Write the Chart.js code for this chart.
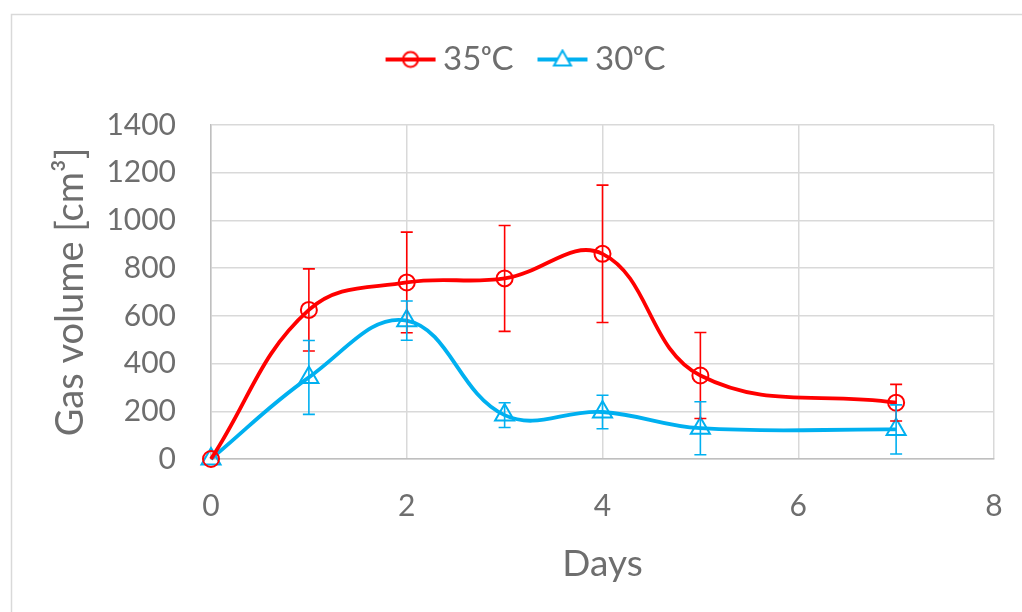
<!DOCTYPE html>
<html>
<head>
<meta charset="utf-8">
<script src="https://cdn.jsdelivr.net/npm/chart.js@4/dist/chart.umd.min.js"></script>
<style>
  html, body { margin: 0; padding: 0; background: #fff; }
</style>
</head>
<body>
<canvas id="gas-chart" width="1022" height="612"></canvas>
<script>
// Datos
const days = [0, 1, 2, 3, 4, 5, 7];
const vol35 = [0, 625, 740, 757, 860, 350, 236];
const err35 = [0, 172, 211, 222, 288, 180, 77];
const vol30 = [0, 342, 580, 184, 197, 129, 124];
const err30 = [0, 155, 82, 52, 70, 111, 103];
const xTicks = [0, 2, 4, 6, 8];
const yTicks = [0, 200, 400, 600, 800, 1000, 1200, 1400];
const seriesNames = ['35ᵒC', '30ᵒC'];

const RED = '#ff0000';
const BLUE = '#00b0f0';
const TEXT = '#6e6e6e';
const FONT = 'Lato, "Open Sans", sans-serif';

// icono de leyenda: linea con marcador
function legendIcon(color, shape) {
    const c = document.createElement('canvas');
    c.width = 52; c.height = 22;
    const g = c.getContext('2d');
    g.strokeStyle = color;
    g.lineWidth = 4;
    g.beginPath(); g.moveTo(1, 11); g.lineTo(51, 11); g.stroke();
    g.lineWidth = 2;
    g.fillStyle = '#fff';
    g.beginPath();
    if (shape === 'circle') {
        g.arc(26, 11, 7.5, 0, Math.PI * 2);
    } else {
        g.moveTo(26, 2); g.lineTo(34.5, 17); g.lineTo(17.5, 17); g.closePath();
        g.fill();
    }
    g.stroke();
    return c;
}
const icons = [legendIcon(RED, 'circle'), legendIcon(BLUE, 'triangle')];

const errorBars = {
    id: 'errorBars',
    afterDatasetsDraw(chart) {
        const { ctx, scales: { x, y } } = chart;
        chart.data.datasets.forEach(ds => {
            ctx.save();
            ctx.strokeStyle = ds.borderColor;
            ctx.lineWidth = 1.6;
            ds.data.forEach((p, i) => {
                const e = ds.errors[i];
                if (!e) return;
                const px = x.getPixelForValue(p.x);
                const top = y.getPixelForValue(p.y + e);
                const bot = y.getPixelForValue(p.y - e);
                ctx.beginPath();
                ctx.moveTo(px, top); ctx.lineTo(px, bot);
                ctx.moveTo(px - 6, top); ctx.lineTo(px + 6, top);
                ctx.moveTo(px - 6, bot); ctx.lineTo(px + 6, bot);
                ctx.stroke();
            });
            ctx.restore();
        });
    }
};

const frame = {
    id: 'frame',
    afterInit(chart) {
        // espacio fijo debajo de la leyenda
        const lg = chart.legend;
        const fit = lg.fit;
        lg.fit = function () { fit.call(this); this.height = 115; };
    },
    afterLayout(chart) {
        // la leyenda de Excel va algo a la derecha
        chart.legend.left += 33;
        chart.legend.right += 33;
    },
    beforeDraw(chart) {
        const ctx = chart.ctx;
        ctx.save();
        ctx.fillStyle = '#fff';
        ctx.fillRect(0, 0, chart.width, chart.height);
        ctx.strokeStyle = '#d9d9d9';
        ctx.lineWidth = 1.5;
        ctx.strokeRect(11.5, 14.5, 1100, 1000);
        ctx.restore();
    }
};

const chart = new Chart(document.getElementById('gas-chart'), {
    type: 'line',
    data: {
        datasets: [{
            label: seriesNames[0],
            data: days.map((d, i) => ({ x: d, y: vol35[i] })),
            errors: err35,
            borderColor: RED,
            backgroundColor: 'rgba(0,0,0,0)',
            borderWidth: 3.8,
            tension: 0.4,
            clip: false,
            pointStyle: 'circle',
            pointRadius: 8,
            pointBorderWidth: 2,
            pointBackgroundColor: 'rgba(0,0,0,0)',
            pointBorderColor: RED
        }, {
            label: seriesNames[1],
            data: days.map((d, i) => ({ x: d, y: vol30[i] })),
            errors: err30,
            borderColor: BLUE,
            backgroundColor: 'rgba(0,0,0,0)',
            borderWidth: 3.8,
            tension: 0.4,
            clip: false,
            pointStyle: 'triangle',
            pointRadius: 11,
            pointBorderWidth: 2,
            pointBackgroundColor: 'rgba(0,0,0,0)',
            pointBorderColor: BLUE
        }]
    },
    options: {
        responsive: false,
        animation: false,
        devicePixelRatio: 1,
        layout: { padding: { top: 10, right: 28, left: 0, bottom: 0 } },
        plugins: {
            tooltip: { enabled: false },
            legend: {
                position: 'top',
                labels: {
                    usePointStyle: true,
                    pointStyleWidth: 32,
                    padding: 33,
                    color: TEXT,
                    font: { family: FONT, size: 33 },
                    generateLabels(ch) {
                        const items = Chart.defaults.plugins.legend.labels.generateLabels(ch);
                        items.forEach((it, i) => { it.pointStyle = icons[i]; });
                        return items;
                    }
                }
            }
        },
        scales: {
            x: {
                type: 'linear',
                min: 0,
                max: 8,
                afterBuildTicks: s => { s.ticks = xTicks.map(v => ({ value: v })); },
                afterFit: s => { s.height = 153; },
                grid: { color: '#d9d9d9', lineWidth: 1.5, drawTicks: true, tickLength: 27, tickColor: 'rgba(0,0,0,0)' },
                border: { color: '#bfbfbf', width: 1.5 },
                ticks: { color: TEXT, padding: 2, font: { family: FONT, size: 30 }, callback: v => String(v) },
                title: {
                    display: true, text: 'Days', color: TEXT,
                    font: { family: FONT, size: 37 },
                    padding: { top: 26, bottom: 26 }
                }
            },
            y: {
                min: 0,
                max: 1400,
                afterBuildTicks: s => { s.ticks = yTicks.map(v => ({ value: v })); },
                afterFit: s => { s.width = 211; },
                grid: { color: '#d9d9d9', lineWidth: 1.5, drawTicks: false },
                border: { color: '#bfbfbf', width: 1.5 },
                ticks: { color: TEXT, padding: 35, font: { family: FONT, size: 30 }, callback: v => String(v) },
                title: {
                    display: true, text: 'Gas volume [cm³]', color: TEXT,
                    font: { family: FONT, size: 38 },
                    padding: { top: 48, bottom: 48 }
                }
            }
        }
    },
    plugins: [frame, errorBars]
});
</script>
</body>
</html>
